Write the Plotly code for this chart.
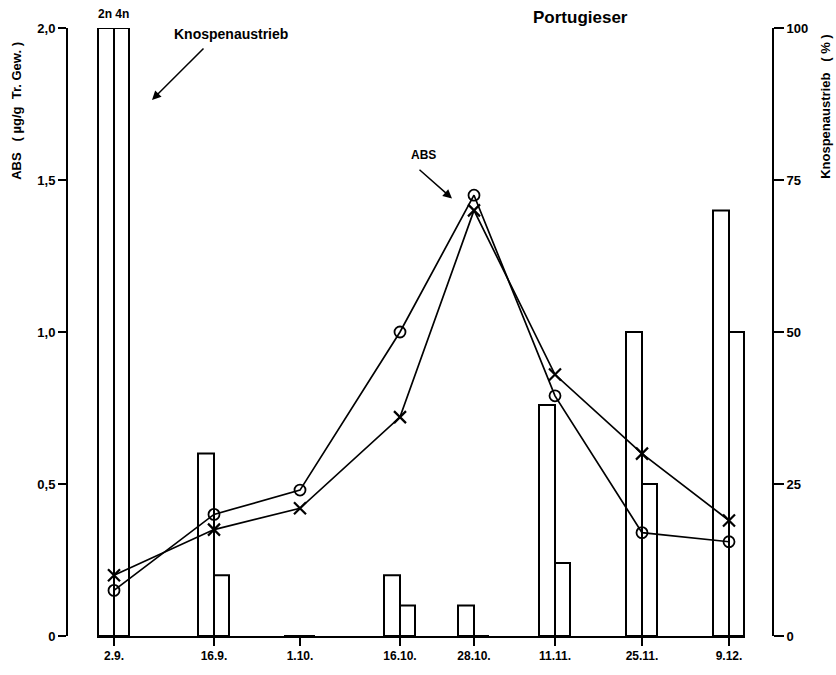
import plotly.graph_objects as go

# ---- data ----
dates = ["2.9.", "16.9.", "1.10.", "16.10.", "28.10.", "11.11.", "25.11.", "9.12."]
x_positions = [0, 100, 186, 286, 360, 441, 528, 615]   # relative placement along the axis (as drawn)
abs_circle = [0.15, 0.40, 0.48, 1.00, 1.45, 0.79, 0.34, 0.31]
abs_cross = [0.20, 0.35, 0.42, 0.72, 1.40, 0.86, 0.60, 0.38]
bud_2n = [100, 30, 0, 10, 5, 38, 50, 70]
bud_4n = [100, 10, 0, 5, 0, 12, 25, 50]
left_tickvals = [0, 0.5, 1.0, 1.5, 2.0]
left_ticktext = ["0", "0,5", "1,0", "1,5", "2,0"]
right_tickvals = [0, 25, 50, 75, 100]
right_ticktext = ["0", "25", "50", "75", "100"]

FONT = "Liberation Sans, Arial, sans-serif"
W, H = 836, 675
L_PX, R_PX, T_PX, B_PX = 67, 773, 28, 645


def px(xp):
    return (xp - L_PX) / (R_PX - L_PX)


def py(yp):
    return (B_PX - yp) / (B_PX - T_PX)


fig = go.Figure()

bar_w = 16
fig.add_trace(go.Bar(x=x_positions, y=bud_2n, width=bar_w, offset=-bar_w, yaxis="y2",
                     marker=dict(color="rgba(0,0,0,0)", line=dict(color="black", width=2)),
                     name="2n", showlegend=False))
fig.add_trace(go.Bar(x=x_positions, y=bud_4n, width=bar_w - 1, offset=0, yaxis="y2",
                     marker=dict(color="rgba(0,0,0,0)", line=dict(color="black", width=2)),
                     name="4n", showlegend=False))

fig.add_trace(go.Scatter(x=x_positions, y=abs_circle, mode="lines+markers", yaxis="y",
                         line=dict(color="black", width=1.7),
                         marker=dict(symbol="circle-open", size=11, color="black",
                                     line=dict(width=1.8, color="black")),
                         name="ABS o", showlegend=False, cliponaxis=False))
fig.add_trace(go.Scatter(x=x_positions, y=abs_cross, mode="lines+markers", yaxis="y",
                         line=dict(color="black", width=1.7),
                         marker=dict(symbol="x-thin-open", size=12, color="black",
                                     line=dict(width=2.2, color="black")),
                         name="ABS x", showlegend=False, cliponaxis=False))

axfont = dict(family=FONT, size=13, color="black", weight="bold")

fig.update_layout(
    width=W, height=H,
    margin=dict(l=L_PX, r=W - R_PX, t=T_PX, b=H - B_PX, pad=0),
    paper_bgcolor="white", plot_bgcolor="white",
    showlegend=False,
    barmode="overlay",
    xaxis=dict(
        domain=[px(97), px(745)],
        range=[-17, 631],
        tickvals=x_positions, ticktext=dates,
        showline=True, linecolor="black", linewidth=2,
        ticks="outside", ticklen=8, tickwidth=2, tickcolor="black",
        showgrid=False, zeroline=False,
        tickfont=dict(family=FONT, size=12, color="black", weight="bold"),
    ),
    yaxis=dict(
        range=[0, 2.0], anchor="free", position=0, side="left",
        tickvals=left_tickvals, ticktext=left_ticktext,
        showline=True, linecolor="black", linewidth=2,
        ticks="outside", ticklen=8, tickwidth=2, tickcolor="black",
        showgrid=False, zeroline=False, tickfont=axfont,
    ),
    yaxis2=dict(
        range=[0, 100], anchor="free", position=1, side="right", overlaying="y",
        tickvals=right_tickvals, ticktext=right_ticktext,
        showline=True, linecolor="black", linewidth=2,
        ticks="outside", ticklen=10, tickwidth=2, tickcolor="black",
        showgrid=False, zeroline=False, tickfont=axfont,
    ),
)


def text_ann(x, y, text, size, angle=0):
    return dict(x=px(x), y=py(y), xref="paper", yref="paper", text=text,
                xanchor="center", yanchor="middle", textangle=angle, showarrow=False,
                font=dict(family=FONT, size=size, color="black", weight="bold"))


ann = [
    text_ann(580, 17, "Portugieser", 17),
    text_ann(113, 14, "2n 4n", 12),
    text_ann(231, 34, "Knospenaustrieb", 14),
    text_ann(423, 157, "ABS", 12),
    text_ann(17, 112, "ABS   ( µg/g  Tr. Gew. )", 13, -90),
    text_ann(826, 108, "Knospenaustrieb   ( % )", 13, -90),
    dict(x=px(152), y=py(101), xref="paper", yref="paper", text="",
         showarrow=True, arrowhead=2, arrowsize=1.2, arrowwidth=1.5, arrowcolor="black",
         ax=53, ay=-53, standoff=0),
    dict(x=px(452), y=py(201), xref="paper", yref="paper", text="",
         showarrow=True, arrowhead=2, arrowsize=1.2, arrowwidth=1.5, arrowcolor="black",
         ax=-34, ay=-30, standoff=0),
]
fig.update_layout(annotations=ann)

fig.write_html("out.html")
